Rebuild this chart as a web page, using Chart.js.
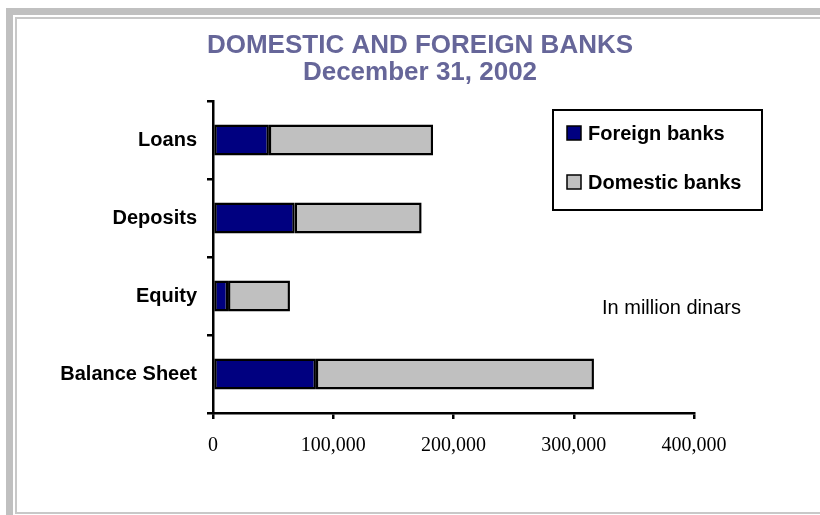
<!DOCTYPE html>
<html>
<head>
<meta charset="utf-8">
<script src="https://cdn.jsdelivr.net/npm/chart.js@4"></script>
<style>
  html, body { margin: 0; padding: 0; background: #ffffff; }
  #wrap { width: 820px; height: 515px; }
</style>
</head>
<body>
<div id="wrap"><canvas id="grafico" width="820" height="515"></canvas></div>
<script>
// Dados do gráfico
const categorias = ['Loans', 'Deposits', 'Equity', 'Balance Sheet'];
const bancosEstrangeiros = [46500, 68000, 12500, 85600];
const bancosDomesticos = [136500, 105500, 51500, 231200];
const nomesSeries = ['Foreign banks', 'Domestic banks'];
const coresSeries = ['#000080', '#c0c0c0'];
const titulo = ['DOMESTIC AND FOREIGN BANKS', 'December 31, 2002'];
const nota = 'In million dinars';
const ticksX = [0, 100000, 200000, 300000, 400000];

const sans = '"Liberation Sans", Arial, sans-serif';
const serif = '"Liberation Serif", "Times New Roman", serif';

// Moldura, título, legenda e nota
const extras = {
    id: 'extras',
    beforeDraw(chart) {
        const c = chart.ctx;
        c.save();
        c.fillStyle = '#ffffff';
        c.fillRect(0, 0, chart.width, chart.height);
        c.fillStyle = '#c0c0c0';
        c.fillRect(6, 8, 7, chart.height - 8);
        c.fillRect(6, 8, chart.width - 6, 7);
        c.fillStyle = '#c8c8c8';
        c.fillRect(15, 17, 2, chart.height - 20);
        c.fillRect(15, 17, chart.width - 15, 2);
        c.fillRect(15, chart.height - 3, chart.width - 15, 2);
        c.restore();
    },
    afterDraw(chart) {
        const c = chart.ctx;
        c.save();
        // Título
        c.fillStyle = '#666699';
        c.font = 'bold 26px ' + sans;
        c.textAlign = 'center';
        c.textBaseline = 'middle';
        c.fillText(titulo[0], 420, 46);
        c.fillText(titulo[1], 420, 73);

        // Legenda
        c.strokeStyle = '#000000';
        c.lineWidth = 2;
        c.strokeRect(553, 110, 209, 100);
        c.font = 'bold 20px ' + sans;
        c.textAlign = 'left';
        const ys = [133, 182];
        chart.data.datasets.forEach((ds, i) => {
            c.fillStyle = ds.backgroundColor;
            c.fillRect(567, ys[i] - 7, 14, 14);
            c.lineWidth = 1.5;
            c.strokeRect(567, ys[i] - 7, 14, 14);
            c.fillStyle = '#000000';
            c.fillText(ds.label, 588, ys[i] + 1);
        });

        // Nota
        c.font = '20px ' + sans;
        c.fillText(nota, 602, 308);
        c.restore();
    }
};

const ctx = document.getElementById('grafico').getContext('2d');
const grafico = new Chart(ctx, {
    type: 'bar',
    data: {
        labels: categorias,
        datasets: [{
            label: nomesSeries[0],
            data: bancosEstrangeiros,
            backgroundColor: coresSeries[0],
            borderColor: '#000000',
            borderWidth: 2.5,
            borderSkipped: false
        }, {
            label: nomesSeries[1],
            data: bancosDomesticos,
            backgroundColor: coresSeries[1],
            borderColor: '#000000',
            borderWidth: 2.5,
            borderSkipped: false
        }]
    },
    options: {
        indexAxis: 'y',
        responsive: false,
        animation: false,
        layout: {
            padding: { left: 0, top: 101, right: 126, bottom: 42 }
        },
        datasets: {
            bar: { categoryPercentage: 1, barPercentage: 0.4 }
        },
        plugins: {
            legend: { display: false },
            title: { display: false },
            tooltip: { enabled: false }
        },
        scales: {
            x: {
                stacked: true,
                min: 0,
                max: 400000,
                afterBuildTicks(scale) {
                    scale.ticks = ticksX.map(v => ({ value: v }));
                },
                grid: {
                    drawOnChartArea: false,
                    drawTicks: true,
                    tickLength: 6,
                    color: '#000000',
                    lineWidth: 2.5
                },
                border: { color: '#000000', width: 2.5 },
                ticks: {
                    color: '#000000',
                    padding: 15,
                    maxRotation: 0,
                    font: { family: serif, size: 20 },
                    callback: v => v.toLocaleString('en-US')
                }
            },
            y: {
                stacked: true,
                afterFit(scale) { scale.width = 213; },
                grid: {
                    offset: true,
                    drawOnChartArea: false,
                    drawTicks: true,
                    tickLength: 6,
                    color: '#000000',
                    lineWidth: 2.5
                },
                border: { color: '#000000', width: 2.5 },
                ticks: {
                    color: '#000000',
                    padding: 10,
                    font: { family: sans, size: 20, weight: 'bold' }
                }
            }
        }
    },
    plugins: [extras]
});
</script>
</body>
</html>
